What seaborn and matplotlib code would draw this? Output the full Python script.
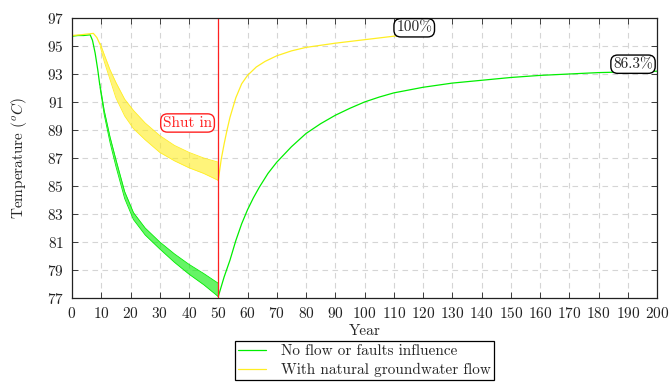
import numpy as np
import pandas as pd
import matplotlib
matplotlib.use("Agg")
import matplotlib.pyplot as plt
import seaborn as sns

# ── Data ──────────────────────────────────────────────────────────────────────
# No flow or faults influence (green)
green_pre_year = [0, 2, 4, 6.2, 7.0, 7.9, 8.8, 9.5]
green_pre_temp = [95.7, 95.75, 95.75, 95.8, 95.4, 94.5, 93.3, 92.2]

green_osc_year  = [9.5, 11, 13, 15, 18, 21, 25, 30, 35, 40, 45, 50]
green_osc_upper = [92.3, 90.4, 88.5, 86.9, 84.6, 83.1, 82.0, 81.0, 80.15, 79.4, 78.75, 78.05]
green_osc_lower = [92.1, 90.1, 88.1, 86.4, 84.1, 82.6, 81.5, 80.5, 79.55, 78.7, 77.95, 77.1]

green_rec_year = [50, 51, 52, 53, 54, 56, 58, 60, 62, 64, 67, 70, 75, 80, 85, 90,
                  95, 100, 105, 110, 115, 120, 130, 140, 150, 160, 170, 180, 190, 200]
green_rec_temp = [77.1, 77.8, 78.5, 79.1, 79.7, 81.1, 82.3, 83.3, 84.15, 84.9, 85.9,
                  86.7, 87.8, 88.75, 89.45, 90.05, 90.55, 91.0, 91.35, 91.65, 91.85,
                  92.05, 92.35, 92.55, 92.75, 92.9, 93.0, 93.1, 93.15, 93.2]

# With natural groundwater flow (yellow)
yellow_pre_year = [0, 3, 5, 7.3, 8.5, 9.6]
yellow_pre_temp = [95.75, 95.8, 95.85, 95.9, 95.6, 95.1]

yellow_osc_year  = [9.6, 11, 13, 15, 18, 21, 25, 30, 35, 40, 45, 50]
yellow_osc_upper = [95.2, 94.4, 93.3, 92.4, 91.2, 90.4, 89.5, 88.6, 87.9, 87.4, 87.0, 86.7]
yellow_osc_lower = [95.0, 93.9, 92.6, 91.3, 90.0, 89.1, 88.3, 87.4, 86.8, 86.3, 85.9, 85.4]

yellow_rec_year = [50, 51, 52, 53, 54, 56, 58, 60, 63, 66, 70, 75, 80, 90, 100, 112]
yellow_rec_temp = [85.4, 86.9, 88.0, 89.0, 89.9, 91.3, 92.3, 92.9, 93.5, 93.9, 94.3,
                   94.65, 94.9, 95.2, 95.45, 95.75]

shut_in_year = 50
x_ticks = list(range(0, 201, 10))
y_ticks = list(range(77, 98, 2))

GREEN = "#00ee00"
YELLOW = "#ffee22"
RED = "#ff2020"

# ── Style ─────────────────────────────────────────────────────────────────────
sns.set_theme(style="ticks")
plt.rcParams["font.family"] = ["cmr10", "DejaVu Serif"]
plt.rcParams["mathtext.fontset"] = "cm"
plt.rcParams["axes.formatter.use_mathtext"] = True
plt.rcParams["axes.unicode_minus"] = False

fig = plt.figure(figsize=(6.7, 3.83), dpi=100)
ax = fig.add_axes([0.1075, 0.222, 0.8731, 0.731])

ax.grid(True, color="#d5d5d5", linestyle=(0, (5, 4)), linewidth=0.8)
ax.set_axisbelow(True)


def draw_series(pre_x, pre_y, osc_x, upper, lower, rec_x, rec_y, color, label):
    pre = pd.DataFrame({"year": pre_x, "temp": pre_y})
    rec = pd.DataFrame({"year": rec_x, "temp": rec_y})
    sns.lineplot(data=pre, x="year", y="temp", color=color, lw=0.9, ax=ax,
                 label=label, sort=False)
    ax.fill_between(osc_x, lower, upper, color=color, alpha=0.6, lw=0)
    ax.plot(osc_x, upper, color=color, lw=0.6)
    ax.plot(osc_x, lower, color=color, lw=0.6)
    sns.lineplot(data=rec, x="year", y="temp", color=color, lw=0.9, ax=ax,
                 legend=False, sort=False)


draw_series(green_pre_year, green_pre_temp, green_osc_year, green_osc_upper,
            green_osc_lower, green_rec_year, green_rec_temp, GREEN,
            "No flow or faults influence")
draw_series(yellow_pre_year, yellow_pre_temp, yellow_osc_year, yellow_osc_upper,
            yellow_osc_lower, yellow_rec_year, yellow_rec_temp, YELLOW,
            "With natural groundwater flow")

ax.axvline(shut_in_year, color=RED, lw=0.9)

# ── Annotations ───────────────────────────────────────────────────────────────
box = dict(boxstyle="round,pad=0.15,rounding_size=0.45", fc="white", ec="black", lw=1)
ax.text(39.5, 89.5, "Shut in", color=RED, fontsize=11, ha="center", va="center",
        bbox=dict(box, ec=RED))
ax.text(117, 96.3, "100%", fontsize=11, ha="center", va="center", bbox=box)
ax.text(191.8, 93.7, "86.3%", fontsize=11, ha="center", va="center", bbox=box)

# ── Axes ──────────────────────────────────────────────────────────────────────
ax.set_xlim(0, 200)
ax.set_ylim(77, 97)
ax.set_xticks(x_ticks)
ax.set_yticks(y_ticks)
ax.tick_params(direction="in", top=True, right=True, length=4, width=0.6,
               labelsize=11, colors="#222222", pad=6)
for sp in ax.spines.values():
    sp.set_color("#222222")
    sp.set_linewidth(0.9)

ax.set_xlabel("Year", fontsize=11, labelpad=2)
ax.set_ylabel(r"Temperature ($^oC$)", fontsize=11, labelpad=13)

leg = ax.legend(loc="upper center", bbox_to_anchor=(0.5, -0.128), fontsize=11,
                frameon=True, fancybox=False, edgecolor="black", framealpha=1,
                handlelength=1.8, borderpad=0.2, labelspacing=0.3,
                handletextpad=1.0)
leg.get_frame().set_linewidth(0.9)

fig.savefig("out.png", dpi=100)
